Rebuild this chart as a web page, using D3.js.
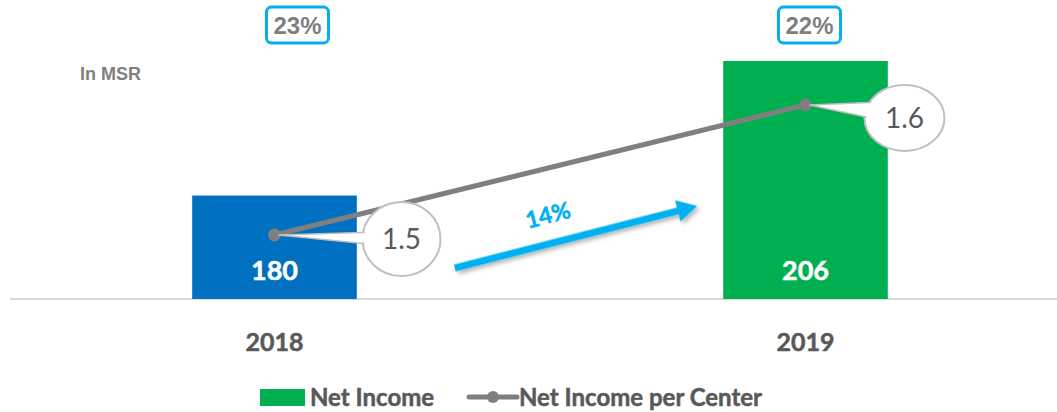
<!DOCTYPE html>
<html>
<head>
<meta charset="utf-8">
<script src="https://cdn.jsdelivr.net/npm/d3@7"></script>
<style>
  body { margin: 0; background: #fff; }
  svg { display: block; }
</style>
</head>
<body>
<svg></svg>
<script>
var width = 1057;
var height = 412;

var years = ["2018", "2019"];
var netIncome = [180, 206];
var perCenter = [1.5, 1.6];
var margins = ["23%", "22%"];
var barColors = ["#0070c0", "#00b050"];
var growth = "14%";

var svg = d3.select("svg").attr("width", width).attr("height", height);

var defs = svg.append("defs");
var shadow = defs.append("filter").attr("id", "shadow")
  .attr("x", "-20%").attr("y", "-50%").attr("width", "140%").attr("height", "200%");
shadow.append("feDropShadow")
  .attr("dx", 2).attr("dy", 3).attr("stdDeviation", 2)
  .attr("flood-color", "#000").attr("flood-opacity", 0.3);

// X SCALE
var xScale = d3.scaleBand()
  .domain(years)
  .range([9, 1071])
  .paddingInner(0.69)
  .paddingOuter(0.345);
var cx = (d) => xScale(d) + xScale.bandwidth() / 2;

// Y SCALES (bars do not start at zero)
var yScale = d3.scaleLinear().domain([160, 206]).range([299, 61]);
var y2Scale = d3.scaleLinear().domain([1.5, 1.6]).range([235, 105]);

// baseline
svg.append("line")
  .attr("x1", 10).attr("x2", width)
  .attr("y1", 299).attr("y2", 299)
  .attr("stroke", "#d9d9d9").attr("stroke-width", 2);

// category labels
svg.selectAll(".year")
  .data(years)
  .enter()
  .append("text")
  .attr("x", (d) => cx(d))
  .attr("y", 351)
  .attr("text-anchor", "middle")
  .style("font-family", "Lato")
  .style("font-weight", "bold")
  .style("font-size", "25px")
  .attr("fill", "#595959")
  .attr("stroke", "#595959").attr("stroke-width", 0.5)
  .text((d) => d);

// BARS
svg.selectAll(".bar")
  .data(netIncome)
  .enter()
  .append("rect")
  .attr("x", (d, i) => xScale(years[i]))
  .attr("y", (d) => yScale(d))
  .attr("width", xScale.bandwidth())
  .attr("height", (d) => 299 - yScale(d))
  .attr("fill", (d, i) => barColors[i]);

svg.selectAll(".barLabel")
  .data(netIncome)
  .enter()
  .append("text")
  .attr("x", (d, i) => cx(years[i]))
  .attr("y", 280)
  .attr("text-anchor", "middle")
  .style("font-family", "Lato")
  .style("font-weight", "bold")
  .style("font-size", "27px")
  .attr("fill", "#fff")
  .attr("stroke", "#fff").attr("stroke-width", 0.5)
  .text((d) => d);

// margin boxes on top
var boxOffsets = [23, 4];
var boxes = svg.selectAll(".box")
  .data(margins)
  .enter()
  .append("g")
  .attr("transform", (d, i) => `translate(${cx(years[i]) + boxOffsets[i]}, 25)`);
boxes.append("rect")
  .attr("x", -31).attr("y", -18)
  .attr("width", 62).attr("height", 36)
  .attr("rx", 5)
  .attr("fill", "#fff")
  .attr("stroke", "#00b0f0")
  .attr("stroke-width", 3);
boxes.append("text")
  .attr("y", 9)
  .attr("text-anchor", "middle")
  .style("font-family", "Liberation Sans, Arial")
  .style("font-weight", "bold")
  .style("font-size", "24px")
  .attr("fill", "#7f7f7f")
  .text((d) => d);

// unit note
svg.append("text")
  .attr("x", 80).attr("y", 80)
  .style("font-family", "Liberation Sans, Arial")
  .style("font-weight", "bold")
  .style("font-size", "18px")
  .attr("fill", "#808080")
  .text("In MSR");

// growth arrow between the bars
var ax1 = xScale(years[0]) + xScale.bandwidth() + 98;
var ax2 = xScale(years[1]) - 26;
var ay1 = 268, ay2 = 206;
var ang = Math.atan2(ay2 - ay1, ax2 - ax1);
var len = Math.hypot(ax2 - ax1, ay2 - ay1);
var arrow = svg.append("g")
  .attr("transform", `translate(${ax1},${ay1}) rotate(${ang * 180 / Math.PI})`)
  .attr("filter", "url(#shadow)");
arrow.append("path")
  .attr("d", `M0,-3.5 L${len - 20},-3.5 L${len - 20},-11 L${len},0 L${len - 20},11 L${len - 20},3.5 L0,3.5 Z`)
  .attr("fill", "#00b0f0");
svg.append("text")
  .attr("transform", `translate(${(ax1 + ax2) / 2 - 26},${(ay1 + ay2) / 2 - 14}) rotate(${ang * 180 / Math.PI})`)
  .attr("text-anchor", "middle")
  .style("font-family", "Lato")
  .style("font-weight", "bold")
  .style("font-size", "23px")
  .attr("fill", "#00b0f0")
  .attr("stroke", "#00b0f0").attr("stroke-width", 0.5)
  .text(growth);

// LINE
var line = d3.line()
  .x((d, i) => cx(years[i]))
  .y((d) => y2Scale(d));
svg.append("path")
  .datum(perCenter)
  .attr("d", line)
  .attr("fill", "none")
  .attr("stroke", "#7f7f7f")
  .attr("stroke-width", 5);

svg.selectAll(".dot")
  .data(perCenter)
  .enter()
  .append("circle")
  .attr("cx", (d, i) => cx(years[i]))
  .attr("cy", (d) => y2Scale(d))
  .attr("r", 6.5)
  .attr("fill", "#7f7f7f");

// callout labels for the line
var callouts = [
  { dx: 127, dy: 4, rx: 39, ry: 37, t1: -7, t2: 6 },
  { dx: 99, dy: 13, rx: 40, ry: 33, t1: -16, t2: 2 }
];
perCenter.forEach(function (v, i) {
  var px = cx(years[i]), py = y2Scale(v);
  var c = callouts[i];
  var ex = px + c.dx, ey = py + c.dy;
  var g = svg.append("g");
  var tail = `M${px + 4},${py} L${ex - c.rx * 0.6},${ey + c.t1} L${ex - c.rx * 0.6},${ey + c.t2} Z`;
  g.append("ellipse")
    .attr("cx", ex).attr("cy", ey).attr("rx", c.rx).attr("ry", c.ry)
    .attr("fill", "#fff").attr("stroke", "#bfbfbf").attr("stroke-width", 2);
  g.append("path").attr("d", tail)
    .attr("fill", "#fff").attr("stroke", "#bfbfbf").attr("stroke-width", 1.5);
  g.append("ellipse")
    .attr("cx", ex).attr("cy", ey).attr("rx", c.rx - 1.5).attr("ry", c.ry - 1.5)
    .attr("fill", "#fff");
  g.append("text")
    .attr("x", ex).attr("y", ey + 10)
    .attr("text-anchor", "middle")
    .style("font-family", "Lato")
    .style("font-size", "28px")
    .attr("fill", "#595959")
    .text(d3.format(".1f")(v));
});

// LEGEND
var legend = svg.append("g");
legend.append("rect")
  .attr("x", 260).attr("y", 389).attr("width", 45).attr("height", 17)
  .attr("fill", "#00b050");
legend.append("text")
  .attr("x", 310).attr("y", 406)
  .style("font-family", "Lato").style("font-weight", "bold").style("font-size", "24px")
  .attr("fill", "#595959")
  .attr("stroke", "#595959").attr("stroke-width", 0.5)
  .text("Net Income");
legend.append("line")
  .attr("x1", 469).attr("x2", 517).attr("y1", 397).attr("y2", 397)
  .attr("stroke", "#7f7f7f").attr("stroke-width", 5).attr("stroke-linecap", "round");
legend.append("circle")
  .attr("cx", 493).attr("cy", 397).attr("r", 6)
  .attr("fill", "#7f7f7f");
legend.append("text")
  .attr("x", 519).attr("y", 406)
  .style("font-family", "Lato").style("font-weight", "bold").style("font-size", "24px")
  .attr("fill", "#595959")
  .attr("stroke", "#595959").attr("stroke-width", 0.5)
  .text("Net Income per Center");
</script>
</body>
</html>
